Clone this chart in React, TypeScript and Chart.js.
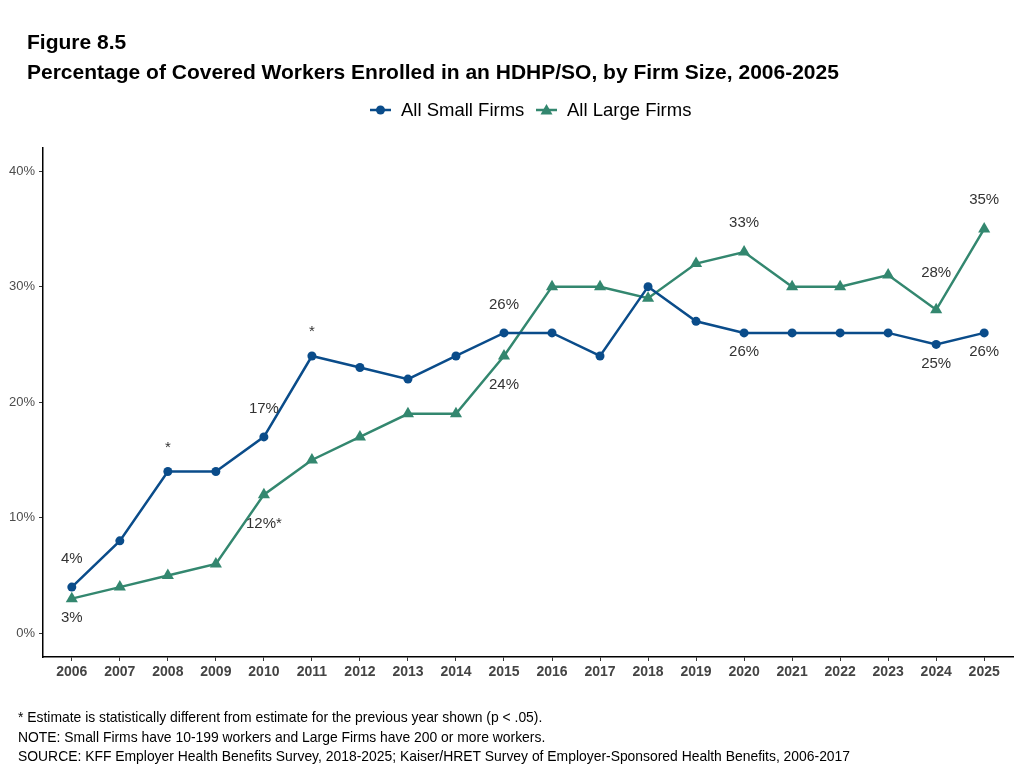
import React, { useEffect, useRef } from "react";
import { Chart, registerables } from "chart.js";

Chart.register(...registerables);

const years = [2006, 2007, 2008, 2009, 2010, 2011, 2012, 2013, 2014, 2015, 2016, 2017, 2018, 2019, 2020, 2021, 2022, 2023, 2024, 2025];
const smallFirms = [4, 8, 14, 14, 17, 24, 23, 22, 24, 26, 26, 24, 30, 27, 26, 26, 26, 26, 25, 26];
const largeFirms = [3, 4, 5, 6, 12, 15, 17, 19, 19, 24, 30, 30, 29, 32, 33, 30, 30, 31, 28, 35];
const yTicks = [0, 10, 20, 30, 40];

// label text per point (null = none) and side ("a" above / "b" below)
const smallLabels = ["4%", null, "*", null, "17%", "*", null, null, null, "26%", null, null, null, null, "26%", null, null, null, "25%", "26%"];
const smallSides = ["a", "", "a", "", "a", "a", "", "", "", "a", "", "", "", "", "b", "", "", "", "b", "b"];
const largeLabels = ["3%", null, null, null, "12%*", null, null, null, null, "24%", null, null, null, null, "33%", null, null, null, "28%", "35%"];
const largeSides = ["b", "", "", "", "b", "", "", "", "", "b", "", "", "", "", "a", "", "", "", "a", "a"];

const SMALL_COLOR = "#0a4c8a";
const LARGE_COLOR = "#33876f";
const FONT = "'Liberation Sans', Arial, sans-serif";

const labelPlugin = {
  id: "pointLabels",
  afterDatasetsDraw(chart: any) {
    const ctx = chart.ctx;
    ctx.save();
    ctx.font = `15px ${FONT}`;
    ctx.fillStyle = "#333333";
    ctx.textAlign = "center";
    ctx.textBaseline = "middle";
    const sets = [
      { labels: smallLabels, sides: smallSides, up: -28, down: 19 },
      { labels: largeLabels, sides: largeSides, up: -29, down: 29 },
    ];
    sets.forEach((s, i) => {
      const meta = chart.getDatasetMeta(i);
      s.labels.forEach((t, j) => {
        if (!t) return;
        const el = meta.data[j];
        let dy = s.sides[j] === "a" ? s.up : s.down;
        if (i === 1 && j === 0) dy = 19;
        if (i === 1 && j === 18) dy = -37;
        if (t === "*") dy += 4;
        ctx.fillText(t, el.x, el.y + dy);
      });
    });
    ctx.restore();
  },
};

const framePlugin = {
  id: "frameText",
  afterDraw(chart: any) {
    const ctx = chart.ctx;
    ctx.save();
    ctx.fillStyle = "#000000";
    ctx.textAlign = "left";
    ctx.textBaseline = "middle";
    ctx.font = `bold 21px ${FONT}`;
    ctx.fillText("Figure 8.5", 27, 43);
    ctx.fillText("Percentage of Covered Workers Enrolled in an HDHP/SO, by Firm Size, 2006-2025", 27, 73);

    // legend
    const ly = 110;
    const drawItem = (x: number, color: string, label: string, tri: boolean) => {
      ctx.strokeStyle = color;
      ctx.lineWidth = 2.5;
      ctx.beginPath();
      ctx.moveTo(x, ly);
      ctx.lineTo(x + 21, ly);
      ctx.stroke();
      ctx.fillStyle = color;
      ctx.beginPath();
      if (tri) {
        const cx = x + 10.5;
        ctx.moveTo(cx, ly - 6);
        ctx.lineTo(cx + 6, ly + 4.5);
        ctx.lineTo(cx - 6, ly + 4.5);
        ctx.closePath();
      } else {
        ctx.arc(x + 10.5, ly, 4.5, 0, Math.PI * 2);
      }
      ctx.fill();
      ctx.fillStyle = "#000000";
      ctx.font = `18.5px ${FONT}`;
      ctx.fillText(label, x + 31, ly + 1);
    };
    drawItem(370, SMALL_COLOR, "All Small Firms", false);
    drawItem(536, LARGE_COLOR, "All Large Firms", true);

    ctx.font = `13.9px ${FONT}`;
    ctx.fillStyle = "#000000";
    ctx.fillText("* Estimate is statistically different from estimate for the previous year shown (p < .05).", 18, 718);
    ctx.fillText("NOTE: Small Firms have 10-199 workers and Large Firms have 200 or more workers.", 18, 738);
    ctx.fillText("SOURCE: KFF Employer Health Benefits Survey, 2018-2025; Kaiser/HRET Survey of Employer-Sponsored Health Benefits, 2006-2017", 18, 757);
    ctx.restore();
  },
};

export default function App() {
  const ref = useRef<HTMLCanvasElement | null>(null);
  useEffect(() => {
    document.body.style.margin = "0";
    const canvas = ref.current;
    if (!canvas) return;
    const chart = new Chart(canvas, {
      type: "line",
      data: {
        datasets: [
          {
            label: "All Small Firms",
            data: years.map((y, i) => ({ x: y, y: smallFirms[i] })),
            borderColor: SMALL_COLOR,
            backgroundColor: SMALL_COLOR,
            borderWidth: 2.5,
            pointStyle: "circle",
            pointRadius: 4.5,
            pointBorderWidth: 0,
            tension: 0,
          },
          {
            label: "All Large Firms",
            data: years.map((y, i) => ({ x: y, y: largeFirms[i] })),
            borderColor: LARGE_COLOR,
            backgroundColor: LARGE_COLOR,
            borderWidth: 2.5,
            pointStyle: "triangle",
            pointRadius: 7,
            pointBorderWidth: 0,
            tension: 0,
          },
        ],
      },
      options: {
        responsive: false,
        animation: false,
        devicePixelRatio: 1,
        layout: { padding: { top: 148, left: 0, right: 10, bottom: 83 } },
        plugins: {
          legend: { display: false },
          title: { display: false },
          tooltip: { enabled: false },
        },
        scales: {
          x: {
            type: "linear",
            min: 2005.4,
            max: 2025.6,
            afterBuildTicks: (scale: any) => {
              scale.ticks = years.map((v) => ({ value: v }));
            },
            afterFit: (scale: any) => {
              scale.height = 30;
            },
            ticks: {
              callback: (v: any) => String(v),
              color: "#444444",
              font: { family: FONT, size: 14, weight: "bold" },
              padding: 3,
              maxRotation: 0,
              autoSkip: false,
            },
            grid: { drawOnChartArea: false, drawTicks: true, tickLength: 4, color: "#333333" },
            border: { display: true, color: "#000000", width: 1.5 },
          },
          y: {
            type: "linear",
            min: -2.05,
            max: 42,
            afterBuildTicks: (scale: any) => {
              scale.ticks = yTicks.map((v) => ({ value: v }));
            },
            afterFit: (scale: any) => {
              scale.width = 43;
            },
            ticks: {
              callback: (v: any) => `${v}%`,
              color: "#4d4d4d",
              font: { family: FONT, size: 13 },
              padding: 4,
            },
            grid: { drawOnChartArea: false, drawTicks: true, tickLength: 4, color: "#333333" },
            border: { display: true, color: "#000000", width: 1.5 },
          },
        },
      },
      plugins: [labelPlugin, framePlugin],
    } as any);
    return () => chart.destroy();
  }, []);
  return (
    <div style={{ position: "relative", width: 1023, height: 770 }}>
      <canvas ref={ref} width={1023} height={770} style={{ display: "block" }} />
    </div>
  );
}
